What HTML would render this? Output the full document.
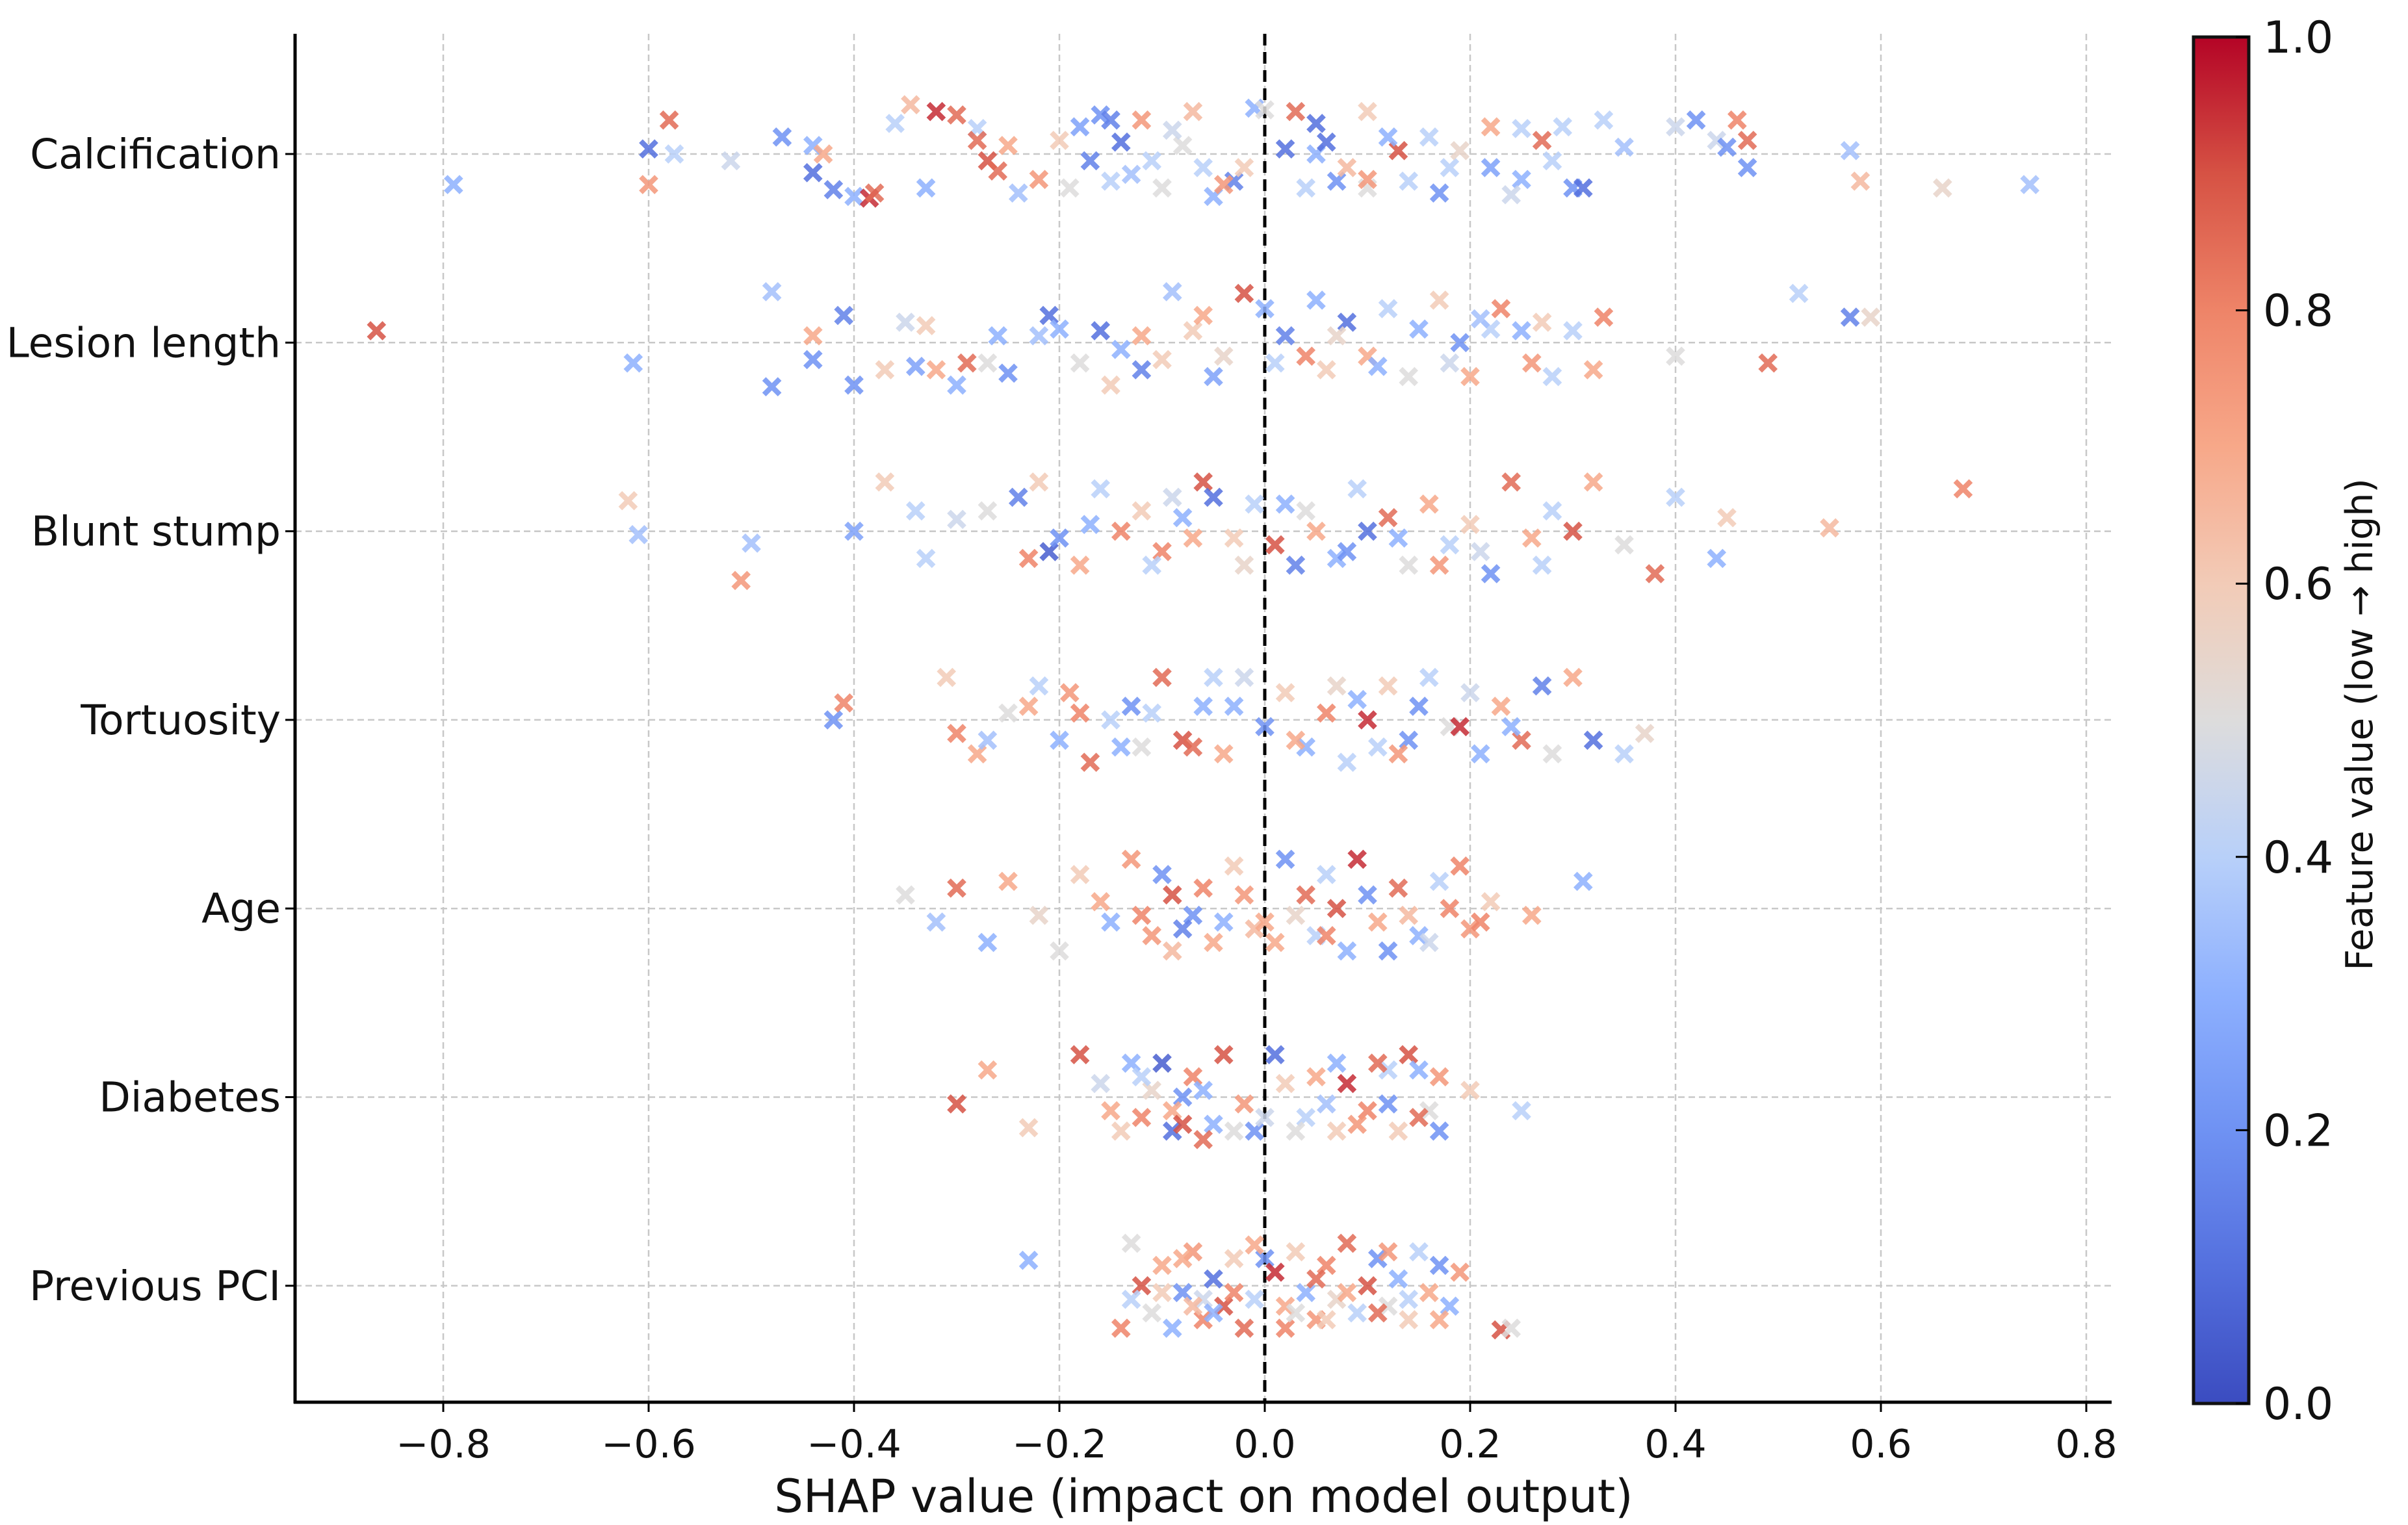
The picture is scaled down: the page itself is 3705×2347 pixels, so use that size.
<!DOCTYPE html>
<html><head><meta charset="utf-8"><style>html,body{margin:0;padding:0;background:#fff}svg{display:block}text{font-family:"DejaVu Sans","Liberation Sans",sans-serif;fill:#111}</style></head>
<body>
<svg id="chart" xmlns="http://www.w3.org/2000/svg" width="3705" height="2347" viewBox="0 0 3705 2347">
<defs><linearGradient id="cw" x1="0" y1="1" x2="0" y2="0"></linearGradient></defs>
<g id="grid"></g>
<g id="marks"></g>
<g id="axes"></g>
<g id="cbar"></g>
</svg>
<script>
const features = ["Calcification","Lesion length","Blunt stump","Tortuosity","Age","Diabetes","Previous PCI"];
const xTicks = [-0.8,-0.6,-0.4,-0.2,0.0,0.2,0.4,0.6,0.8];
const xTickLabels = ["\u22120.8","\u22120.6","\u22120.4","\u22120.2","0.0","0.2","0.4","0.6","0.8"];
const cbTicks = [0.0,0.2,0.4,0.6,0.8,1.0];
const cbTickLabels = ["0.0","0.2","0.4","0.6","0.8","1.0"];
// each point: [shap value, jitter offset (fraction of row spacing), feature value]
const calcification = [[-0.79,0.18,0.3],[-0.58,-0.2,0.85],[-0.6,-0.03,0.1],[-0.6,0.18,0.75],[-0.575,0,0.4],[-0.52,0.04,0.45],[-0.47,-0.1,0.2],[-0.44,-0.05,0.3],[-0.43,0,0.7],[-0.44,0.11,0.1],[-0.42,0.21,0.15],[-0.40,0.25,0.3],[-0.385,0.26,0.95],[-0.38,0.23,0.85],[-0.36,-0.18,0.4],[-0.345,-0.29,0.65],[-0.32,-0.25,0.95],[-0.30,-0.23,0.85],[-0.28,-0.15,0.4],[-0.28,-0.08,0.85],[-0.27,0.04,0.9],[-0.25,-0.05,0.7],[-0.24,0.23,0.35],[-0.22,0.15,0.75],[-0.2,-0.08,0.6],[-0.18,-0.16,0.25],[-0.17,0.04,0.15],[-0.16,-0.23,0.2],[-0.15,-0.2,0.15],[-0.15,0.16,0.4],[-0.14,-0.07,0.1],[-0.12,-0.2,0.75],[-0.11,0.04,0.4],[-0.1,0.2,0.5],[-0.07,-0.25,0.65],[-0.06,0.08,0.4],[-0.05,0.25,0.3],[-0.03,0.16,0.15],[-0.02,0.08,0.6],[-0.01,-0.27,0.3],[0.0,-0.26,0.5],[0.02,-0.03,0.1],[0.03,-0.25,0.85],[0.05,0,0.3],[0.06,-0.07,0.1],[0.07,0.16,0.2],[0.1,-0.25,0.6],[0.1,0.2,0.5],[0.1,0.15,0.75],[0.13,-0.02,0.9],[0.14,0.16,0.4],[0.16,-0.1,0.4],[0.17,0.23,0.2],[0.18,0.08,0.4],[0.22,-0.16,0.7],[0.22,0.08,0.25],[0.25,-0.15,0.4],[0.25,0.15,0.3],[0.27,-0.08,0.85],[0.29,-0.16,0.4],[0.3,0.2,0.2],[0.31,0.2,0.1],[0.33,-0.2,0.4],[0.35,-0.04,0.35],[0.4,-0.16,0.45],[0.42,-0.2,0.2],[0.44,-0.08,0.45],[0.45,-0.04,0.2],[0.46,-0.2,0.8],[0.47,-0.08,0.85],[0.47,0.08,0.2],[0.57,-0.02,0.35],[0.58,0.16,0.65],[0.66,0.2,0.55],[0.745,0.18,0.35],[-0.33,0.2,0.3],[-0.26,0.1,0.85],[-0.19,0.2,0.5],[-0.13,0.12,0.35],[-0.08,-0.05,0.5],[-0.04,0.18,0.75],[0.04,0.2,0.4],[0.08,0.08,0.65],[0.12,-0.1,0.3],[0.19,-0.02,0.55],[0.24,0.24,0.45],[0.28,0.04,0.4],[0.05,-0.18,0.1],[-0.09,-0.14,0.45]];
const lesionLength = [[-0.865,-0.07,0.9],[-0.615,0.12,0.3],[-0.48,-0.3,0.35],[-0.48,0.26,0.2],[-0.44,-0.04,0.7],[-0.44,0.1,0.2],[-0.41,-0.16,0.15],[-0.40,0.25,0.2],[-0.37,0.16,0.6],[-0.35,-0.12,0.45],[-0.33,-0.1,0.6],[-0.32,0.16,0.7],[-0.3,0.25,0.3],[-0.29,0.12,0.85],[-0.26,-0.04,0.3],[-0.25,0.18,0.2],[-0.21,-0.16,0.1],[-0.2,-0.08,0.3],[-0.18,0.12,0.5],[-0.16,-0.07,0.1],[-0.15,0.25,0.6],[-0.12,0.16,0.15],[-0.12,-0.04,0.7],[-0.09,-0.3,0.35],[-0.07,-0.07,0.6],[-0.05,0.2,0.25],[-0.04,0.08,0.55],[-0.02,-0.29,0.9],[0.0,-0.2,0.3],[0.02,-0.04,0.15],[0.04,0.08,0.8],[0.05,-0.25,0.3],[0.06,0.16,0.6],[0.08,-0.12,0.1],[0.1,0.08,0.7],[0.12,-0.2,0.4],[0.14,0.2,0.5],[0.15,-0.08,0.3],[0.17,-0.25,0.6],[0.19,0,0.2],[0.2,0.2,0.7],[0.22,-0.08,0.4],[0.23,-0.2,0.8],[0.25,-0.07,0.3],[0.26,0.12,0.75],[0.28,0.2,0.4],[0.3,-0.07,0.4],[0.32,0.16,0.7],[0.33,-0.15,0.8],[0.4,0.08,0.5],[0.49,0.12,0.85],[0.52,-0.29,0.4],[0.57,-0.15,0.15],[0.59,-0.15,0.55],[-0.27,0.12,0.5],[-0.22,-0.04,0.35],[-0.14,0.04,0.3],[-0.1,0.1,0.6],[-0.06,-0.16,0.7],[0.01,0.12,0.4],[0.07,-0.04,0.55],[0.11,0.14,0.3],[0.18,0.12,0.45],[0.21,-0.14,0.35],[0.27,-0.12,0.6],[-0.34,0.14,0.25]];
const bluntStump = [[-0.62,-0.18,0.6],[-0.61,0.02,0.35],[-0.5,0.07,0.35],[-0.51,0.29,0.75],[-0.4,0,0.25],[-0.37,-0.29,0.6],[-0.34,-0.12,0.4],[-0.33,0.16,0.4],[-0.3,-0.07,0.45],[-0.27,-0.12,0.5],[-0.24,-0.2,0.15],[-0.22,-0.29,0.6],[-0.21,0.12,0.05],[-0.2,0.04,0.2],[-0.18,0.2,0.7],[-0.16,-0.25,0.4],[-0.14,0,0.8],[-0.12,-0.12,0.6],[-0.1,0.12,0.8],[-0.08,-0.08,0.3],[-0.06,-0.29,0.9],[-0.05,-0.2,0.1],[-0.03,0.04,0.6],[-0.01,-0.16,0.4],[0.01,0.08,0.9],[0.02,-0.16,0.3],[0.03,0.2,0.15],[0.05,0,0.7],[0.07,0.16,0.3],[0.09,-0.25,0.4],[0.1,0,0.1],[0.12,-0.08,0.85],[0.14,0.2,0.5],[0.16,-0.16,0.7],[0.18,0.08,0.4],[0.2,-0.04,0.6],[0.22,0.25,0.2],[0.24,-0.29,0.85],[0.26,0.04,0.7],[0.28,-0.12,0.4],[0.3,0,0.9],[0.32,-0.29,0.7],[0.35,0.08,0.5],[0.38,0.25,0.85],[0.4,-0.2,0.4],[0.44,0.16,0.3],[0.45,-0.08,0.6],[0.55,-0.02,0.65],[0.68,-0.25,0.8],[-0.23,0.16,0.8],[-0.17,-0.04,0.3],[-0.11,0.2,0.4],[-0.07,0.04,0.7],[-0.02,0.2,0.55],[0.04,-0.12,0.5],[0.08,0.12,0.2],[0.13,0.04,0.3],[0.17,0.2,0.75],[0.21,0.12,0.45],[0.27,0.2,0.4],[-0.09,-0.2,0.45]];
const tortuosity = [[-0.42,0,0.2],[-0.41,-0.1,0.8],[-0.31,-0.25,0.6],[-0.3,0.08,0.8],[-0.28,0.2,0.7],[-0.25,-0.04,0.5],[-0.22,-0.2,0.4],[-0.2,0.12,0.3],[-0.18,-0.04,0.8],[-0.17,0.25,0.85],[-0.15,0,0.4],[-0.12,0.16,0.5],[-0.1,-0.25,0.85],[-0.08,0.12,0.9],[-0.06,-0.08,0.3],[-0.04,0.2,0.7],[-0.02,-0.25,0.45],[0.0,0.04,0.2],[0.02,-0.16,0.6],[0.04,0.16,0.3],[0.06,-0.04,0.8],[0.08,0.25,0.4],[0.1,0,0.95],[0.12,-0.2,0.6],[0.14,0.12,0.2],[0.16,-0.25,0.4],[0.18,0.04,0.5],[0.19,0.04,0.95],[0.21,0.2,0.3],[0.23,-0.08,0.7],[0.25,0.12,0.85],[0.27,-0.2,0.15],[0.28,0.2,0.5],[0.3,-0.25,0.7],[0.32,0.12,0.1],[0.35,0.2,0.4],[0.37,0.08,0.55],[-0.13,-0.08,0.2],[0.09,-0.12,0.3],[-0.05,-0.25,0.4],[-0.27,0.12,0.35],[-0.19,-0.16,0.75],[-0.14,0.16,0.3],[-0.11,-0.04,0.4],[-0.07,0.16,0.85],[-0.03,-0.08,0.3],[0.03,0.12,0.7],[0.07,-0.2,0.55],[0.11,0.16,0.4],[0.15,-0.08,0.2],[0.2,-0.16,0.45],[0.24,0.04,0.3],[0.13,0.2,0.75],[-0.23,-0.08,0.7]];
const age = [[-0.35,-0.08,0.5],[-0.32,0.08,0.35],[-0.3,-0.12,0.85],[-0.27,0.2,0.3],[-0.25,-0.16,0.7],[-0.22,0.04,0.55],[-0.2,0.25,0.5],[-0.18,-0.2,0.6],[-0.15,0.08,0.3],[-0.13,-0.29,0.75],[-0.11,0.16,0.75],[-0.09,-0.08,0.9],[-0.07,0.04,0.2],[-0.05,0.2,0.7],[-0.03,-0.25,0.6],[-0.01,0.12,0.65],[0.02,-0.29,0.2],[0.04,-0.08,0.85],[0.05,0.16,0.4],[0.07,0,0.9],[0.08,0.25,0.3],[0.09,-0.29,0.95],[0.11,0.08,0.7],[0.13,-0.12,0.85],[0.15,0.16,0.3],[0.17,-0.16,0.4],[0.18,0,0.8],[0.19,-0.25,0.8],[0.2,0.12,0.75],[0.22,-0.04,0.6],[0.26,0.04,0.7],[0.31,-0.16,0.3],[-0.08,0.12,0.15],[-0.06,-0.12,0.8],[0.0,0.08,0.7],[0.12,0.25,0.2],[-0.16,-0.04,0.7],[-0.12,0.04,0.8],[-0.1,-0.2,0.2],[-0.04,0.08,0.3],[-0.02,-0.08,0.75],[0.01,0.2,0.7],[0.03,0.04,0.55],[0.06,0.16,0.8],[0.1,-0.08,0.2],[0.14,0.04,0.65],[0.16,0.2,0.45],[0.21,0.08,0.8],[-0.09,0.25,0.65],[0.06,-0.2,0.4]];
const diabetes = [[-0.3,0.04,0.9],[-0.27,-0.16,0.7],[-0.23,0.18,0.6],[-0.18,-0.25,0.9],[-0.16,-0.08,0.45],[-0.15,0.08,0.7],[-0.13,-0.2,0.3],[-0.12,0.12,0.8],[-0.1,-0.2,0.05],[-0.09,0.2,0.1],[-0.08,0,0.2],[-0.07,-0.12,0.8],[-0.05,0.16,0.3],[-0.04,-0.25,0.9],[-0.02,0.04,0.75],[-0.01,0.2,0.2],[0.01,-0.25,0.1],[0.02,-0.08,0.6],[0.04,0.12,0.4],[0.05,-0.12,0.7],[0.07,0.2,0.6],[0.08,-0.08,0.95],[0.1,0.08,0.8],[0.12,-0.16,0.4],[0.13,0.2,0.6],[0.14,-0.25,0.9],[0.15,-0.16,0.3],[0.16,0.08,0.5],[0.17,0.2,0.2],[0.2,-0.04,0.6],[0.25,0.08,0.4],[-0.06,0.25,0.85],[0.11,-0.2,0.85],[-0.11,-0.04,0.55],[-0.14,0.2,0.6],[-0.12,-0.12,0.4],[-0.09,0.08,0.7],[-0.06,-0.04,0.3],[-0.03,0.2,0.5],[0.0,0.12,0.45],[0.03,0.2,0.5],[0.06,0.04,0.35],[0.09,0.16,0.75],[0.12,0.04,0.2],[0.15,0.12,0.85],[0.17,-0.12,0.75],[-0.08,0.16,0.9],[0.07,-0.2,0.3]];
const previousPCI = [[-0.23,-0.15,0.3],[-0.14,0.25,0.8],[-0.13,-0.25,0.5],[-0.12,0,0.9],[-0.11,0.16,0.5],[-0.1,-0.12,0.7],[-0.09,0.25,0.3],[-0.08,0.04,0.2],[-0.07,-0.2,0.75],[-0.06,0.2,0.8],[-0.05,-0.04,0.1],[-0.04,0.12,0.9],[-0.03,-0.16,0.6],[-0.02,0.25,0.85],[-0.01,0.08,0.4],[0.0,-0.16,0.2],[0.01,-0.08,0.95],[0.02,0.12,0.7],[0.03,-0.2,0.6],[0.04,0.04,0.3],[0.05,0.2,0.75],[0.06,-0.12,0.8],[0.07,0.08,0.55],[0.08,-0.25,0.85],[0.09,0.16,0.4],[0.1,0,0.9],[0.11,-0.16,0.2],[0.12,0.12,0.5],[0.13,-0.04,0.3],[0.14,0.2,0.6],[0.15,-0.2,0.4],[0.16,0.04,0.7],[0.17,-0.12,0.2],[0.18,0.12,0.3],[0.19,-0.08,0.75],[0.23,0.26,0.9],[0.24,0.25,0.5],[-0.06,0.08,0.45],[0.02,0.25,0.8],[0.11,0.16,0.85],[-0.13,0.08,0.4],[-0.1,0.04,0.6],[-0.08,-0.16,0.7],[-0.05,0.16,0.3],[-0.03,0.04,0.8],[-0.01,-0.24,0.7],[0.03,0.16,0.5],[0.05,-0.04,0.85],[0.08,0.04,0.7],[0.12,-0.2,0.75],[0.14,0.08,0.4],[0.17,0.2,0.7],[-0.07,0.12,0.65],[0.06,0.2,0.6]];
const seriesByFeature = [calcification,lesionLength,bluntStump,tortuosity,age,diabetes,previousPCI];

const NS="http://www.w3.org/2000/svg";
const L=454,R=3249,T=52,B=2158;
const xScale=v=>1946+v*1580;
const rowY=i=>237+i*290.3;
const ROW=290.3;
const cbTop=57,cbBot=2160,cbL=3375,cbR=3460;
const cbScale=v=>cbBot-v*(cbBot-cbTop);
const stops=[[0,[59,76,192]],[0.1,[84,112,222]],[0.2,[111,146,243]],[0.3,[141,176,254]],[0.4,[184,208,249]],[0.5,[221,220,220]],[0.6,[242,203,183]],[0.7,[247,168,137]],[0.8,[238,132,104]],[0.9,[214,82,68]],[1,[180,4,38]]];
function cmap(v){v=Math.max(0,Math.min(1,v));for(let i=1;i<stops.length;i++){if(v<=stops[i][0]){const a=stops[i-1],b=stops[i],t=(v-a[0])/(b[0]-a[0]);const c=a[1].map((x,k)=>Math.round(x+(b[1][k]-x)*t));return `rgb(${c[0]},${c[1]},${c[2]})`;}}return "rgb(180,4,38)";}
function mk(tag,attrs,parent){const e=document.createElementNS(NS,tag);for(const k in attrs)e.setAttribute(k,attrs[k]);parent.appendChild(e);return e;}
const grid=document.getElementById('grid'),marks=document.getElementById('marks'),axes=document.getElementById('axes'),cbar=document.getElementById('cbar');

xTicks.forEach((t,i)=>{
  const g=mk('line',{x1:xScale(t),x2:xScale(t),y1:T,y2:B,stroke:'#c8c8c8','stroke-width':2.5,'stroke-dasharray':'10,6'},grid);
  
  
});
features.forEach((f,i)=>{
  const g=mk('line',{x1:L,x2:R,y1:rowY(i),y2:rowY(i),stroke:'#c8c8c8','stroke-width':2.5,'stroke-dasharray':'10,6'},grid);
  
  
});
const zl=mk('line',{x1:xScale(0),x2:xScale(0),y1:T,y2:B,stroke:'#000','stroke-width':5,'stroke-dasharray':'18,10'},grid);



const s=12;
seriesByFeature.forEach((pts,i)=>{
  pts.forEach(p=>{
    const cx=xScale(p[0]),cy=rowY(i)+p[1]*ROW*0.9,c=cmap(p[2]);
    const m=mk('path',{d:`M${cx-s},${cy-s}L${cx+s},${cy+s}M${cx-s},${cy+s}L${cx+s},${cy-s}`,stroke:c,'stroke-width':8,'stroke-opacity':0.85,fill:'none'},marks);
    
    
  });
});

const sl=mk('line',{x1:L,x2:L,y1:T,y2:B+2,stroke:'#000','stroke-width':5},axes);


const sb=mk('line',{x1:L-2,x2:R,y1:B,y2:B,stroke:'#000','stroke-width':5},axes);


xTicks.forEach((t,i)=>{
  const tk=mk('line',{x1:xScale(t),x2:xScale(t),y1:B,y2:B+15,stroke:'#000','stroke-width':3},axes);
  
  
  const tx=mk('text',{x:xScale(t),y:B+85,'text-anchor':'middle','font-size':60},axes);
  tx.textContent=xTickLabels[i];
  
  
});
features.forEach((f,i)=>{
  const tk=mk('line',{x1:L-15,x2:L,y1:rowY(i),y2:rowY(i),stroke:'#000','stroke-width':3},axes);
  
  
  const tx=mk('text',{x:L-22,y:rowY(i)+22,'text-anchor':'end','font-size':63},axes);
  tx.textContent=f;
  
  
});
const xl=mk('text',{x:1852,y:2327,'text-anchor':'middle','font-size':70},axes);
xl.textContent='SHAP value (impact on model output)';



const grad=document.getElementById('cw');
for(let i=0;i<=20;i++){const v=i/20;mk('stop',{offset:v,'stop-color':cmap(v)},grad);}
const cr=mk('rect',{x:cbL,y:cbTop,width:cbR-cbL,height:cbBot-cbTop,fill:'url(#cw)',stroke:'#111','stroke-width':5},cbar);


cbTicks.forEach((t,i)=>{
  const tk=mk('line',{x1:cbR-20,x2:cbR,y1:cbScale(t),y2:cbScale(t),stroke:'#000','stroke-width':3},cbar);
  
  
  const tx=mk('text',{x:cbR+22,y:cbScale(t)+24,'font-size':68},cbar);
  tx.textContent=cbTickLabels[i];
  
  
});
const cl=mk('text',{x:0,y:0,'text-anchor':'middle','font-size':57,transform:'translate(3650,1115) rotate(-90)'},cbar);
cl.textContent='Feature value (low \u2192 high)';


</script>
</body></html>
